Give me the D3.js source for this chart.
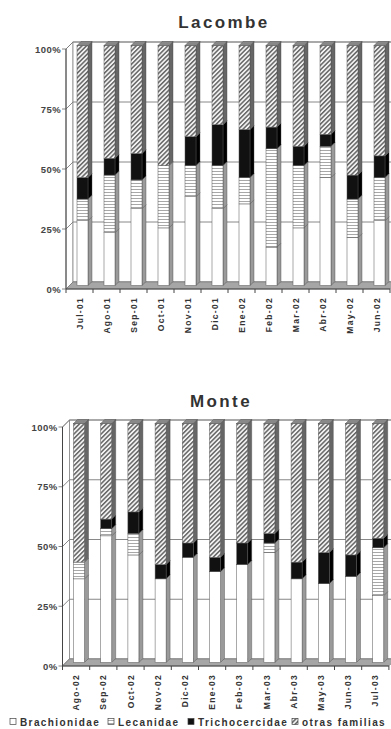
<!DOCTYPE html>
<html>
<head>
<meta charset="utf-8">
<script src="https://cdn.jsdelivr.net/npm/d3@7"></script>
<style>
  body { margin: 0; background: #fff; }
  svg { display: block; font-family: "Liberation Sans", Arial, sans-serif; }
</style>
</head>
<body>
<div id="chart"></div>
<script>
"use strict";
// 100% stacked 3D-looking columns, two panels (Lacombe, Monte)

const lacMonths = ["Jul-01", "Ago-01", "Sep-01", "Oct-01", "Nov-01", "Dic-01", "Ene-02", "Feb-02", "Mar-02", "Abr-02", "May-02", "Jun-02"];
const lacBrach = [27, 22, 32, 24, 37, 32, 34, 16, 24, 45, 20, 27];
const lacLecan = [9, 24, 12, 26, 13, 18, 11, 41, 26, 13, 16, 18];
const lacTrich = [9, 7, 11, 0, 12, 17, 20, 9, 8, 5, 10, 9];
const lacOtras = [55, 47, 45, 50, 38, 33, 35, 34, 42, 37, 54, 46];

const monMonths = ["Ago-02", "Sep-02", "Oct-02", "Nov-02", "Dic-02", "Ene-03", "Feb-03", "Mar-03", "Abr-03", "May-03", "Jun-03", "Jul-03"];
const monBrach = [35, 53, 45, 35, 44, 38, 41, 46, 35, 33, 36, 28];
const monLecan = [7, 3, 9, 0, 0, 0, 0, 4, 0, 0, 0, 20];
const monTrich = [0, 4, 9, 6, 6, 6, 9, 4, 7, 13, 9, 4];
const monOtras = [58, 40, 37, 59, 50, 56, 50, 46, 58, 54, 55, 48];

const seriesKeys = ["Brachionidae", "Lecanidae", "Trichocercidae", "otras familias"];
const yTicks = [0, 25, 50, 75, 100];

const W = 391, H = 729;
const svg = d3.select("#chart").append("svg")
	.attr("width", W)
	.attr("height", H);

// patterns
let defs = svg.append("defs");
let pH = defs.append("pattern")
	.attr("id", "stripeH")
	.attr("patternUnits", "userSpaceOnUse")
	.attr("width", 4).attr("height", 3);
pH.append("rect").attr("width", 4).attr("height", 3).attr("fill", "#fff");
pH.append("rect").attr("y", 0).attr("width", 4).attr("height", 1).attr("fill", "#a8a8a8");

let pD = defs.append("pattern")
	.attr("id", "hatch")
	.attr("patternUnits", "userSpaceOnUse")
	.attr("width", 3.2).attr("height", 3.2)
	.attr("patternTransform", "rotate(45)");
pD.append("rect").attr("width", 3.2).attr("height", 3.2).attr("fill", "#f2f2f2");
pD.append("rect").attr("width", 1.5).attr("height", 3.2).attr("fill", "#666");

const fills = ["#fff", "url(#stripeH)", "#111", "url(#hatch)"];
const sides = ["#9a9a9a", "#9a9a9a", "#000", "#666"];

const depth = { dx: 7, dy: -7 };

function drawPanel(cfg) {
	let g = svg.append("g");
	let n = cfg.months.length;
	let xR = cfg.x0 + cfg.step * n;

	let x = d3.scaleBand()
		.domain(cfg.months)
		.range([cfg.x0, xR]);

	let y = d3.scaleLinear()
		.domain([0, 100])
		.range([cfg.yBot, cfg.yTop]);

	let rows = cfg.months.map(function (m, i) {
		let r = { month: m };
		cfg.values.forEach(function (arr, k) { r[seriesKeys[k]] = arr[i]; });
		return r;
	});
	let stacked = d3.stack().keys(seriesKeys)(rows);

	// title
	g.append("text")
		.attr("x", cfg.titleX)
		.attr("y", cfg.titleY)
		.attr("text-anchor", "middle")
		.style("font-size", "17px")
		.style("font-weight", "bold")
		.style("letter-spacing", "2.4px")
		.style("fill", "#333")
		.text(cfg.title);

	// side wall
	g.append("path")
		.attr("d", d3.line()([[cfg.x0, y(100)], [cfg.x0 + depth.dx, y(100) + depth.dy], [cfg.x0 + depth.dx, y(0) + depth.dy], [cfg.x0, y(0)]]) + "Z")
		.style("fill", "#fff")
		.style("stroke", "#888")
		.style("stroke-width", "0.8px");

	// back wall
	g.append("rect")
		.attr("x", cfg.x0 + depth.dx)
		.attr("y", y(100) + depth.dy)
		.attr("width", xR - cfg.x0)
		.attr("height", y(0) - y(100))
		.style("fill", "#fff")
		.style("stroke", "#888")
		.style("stroke-width", "0.8px");

	// gridlines
	yTicks.forEach(function (v) {
		g.append("path")
			.attr("d", d3.line()([[cfg.x0 - 4, y(v)], [cfg.x0, y(v)], [cfg.x0 + depth.dx, y(v) + depth.dy], [xR + depth.dx, y(v) + depth.dy]]))
			.style("fill", "none")
			.style("stroke", "#7a7a7a")
			.style("stroke-width", "0.9px");
	});

	// floor
	g.append("path")
		.attr("d", d3.line()([[cfg.x0, y(0)], [cfg.x0 + depth.dx, y(0) + depth.dy], [xR + depth.dx, y(0) + depth.dy], [xR, y(0)]]) + "Z")
		.style("fill", "#a6a6a6")
		.style("stroke", "#777")
		.style("stroke-width", "0.6px");

	// bars
	let bw = 11, bd = 4;
	let yB = function (v) { return y(v) + depth.dy / 2; };
	let barX = function (m) { return x(m) + 11; };

	stacked.forEach(function (layer, k) {
		let lg = g.append("g");
		layer.forEach(function (d) {
			if (d[1] - d[0] <= 0) return;
			let bx = barX(d.data.month);
			let t = yB(d[1]), b = yB(d[0]);
			lg.append("path")
				.attr("d", d3.line()([[bx + bw, t], [bx + bw + bd, t - bd], [bx + bw + bd, b - bd], [bx + bw, b]]) + "Z")
				.style("fill", sides[k])
				.style("stroke", "#444")
				.style("stroke-width", "0.4px");
			lg.append("rect")
				.attr("x", bx)
				.attr("y", t)
				.attr("width", bw)
				.attr("height", b - t)
				.style("fill", fills[k])
				.style("stroke", "#555")
				.style("stroke-width", "0.5px");
		});
	});

	// bar tops
	cfg.months.forEach(function (m) {
		let bx = barX(m), t = yB(100);
		g.append("path")
			.attr("d", d3.line()([[bx, t], [bx + bd, t - bd], [bx + bw + bd, t - bd], [bx + bw, t]]) + "Z")
			.style("fill", "#888")
			.style("stroke", "#444")
			.style("stroke-width", "0.4px");
	});

	// y axis
	g.append("line")
		.attr("x1", cfg.x0).attr("x2", cfg.x0)
		.attr("y1", y(100)).attr("y2", y(0))
		.style("stroke", "#444")
		.style("stroke-width", "1px");

	yTicks.forEach(function (v) {
		g.append("text")
			.attr("x", cfg.x0 - 5)
			.attr("y", y(v) + 3.5)
			.attr("text-anchor", "end")
			.style("font-size", "9.5px")
			.style("font-weight", "bold")
			.style("letter-spacing", "0.4px")
			.style("fill", "#444")
			.text(v + "%");
	});

	// x axis line + boundary ticks
	g.append("line")
		.attr("x1", cfg.x0).attr("x2", xR)
		.attr("y1", y(0)).attr("y2", y(0))
		.style("stroke", "#444")
		.style("stroke-width", "1px");

	d3.range(n + 1).forEach(function (i) {
		let tx = cfg.x0 + i * x.step();
		g.append("line")
			.attr("x1", tx).attr("x2", tx)
			.attr("y1", y(0)).attr("y2", y(0) + 4)
			.style("stroke", "#444")
			.style("stroke-width", "1px");
	});

	cfg.months.forEach(function (m) {
		let cx = x(m) + x.bandwidth() / 2 + 3;
		g.append("text")
			.attr("transform", "translate(" + cx + "," + (y(0) + 8) + ") rotate(-90)")
			.attr("text-anchor", "end")
			.style("font-size", "8.5px")
			.style("font-weight", "bold")
			.style("letter-spacing", "1.3px")
			.style("fill", "#333")
			.text(m);
	});
}

drawPanel({
	title: "Lacombe",
	months: lacMonths,
	values: [lacBrach, lacLecan, lacTrich, lacOtras],
	x0: 66, step: 27, yTop: 49, yBot: 289,
	titleX: 224, titleY: 28
});

drawPanel({
	title: "Monte",
	months: monMonths,
	values: [monBrach, monLecan, monTrich, monOtras],
	x0: 62.5, step: 27.2, yTop: 427, yBot: 666,
	titleX: 221, titleY: 407
});

// legend
let legendX = [10, 108, 188, 292];
let lg = svg.append("g");
seriesKeys.forEach(function (key, k) {
	lg.append("rect")
		.attr("x", legendX[k])
		.attr("y", 718.5)
		.attr("width", 6)
		.attr("height", 6)
		.style("fill", fills[k])
		.style("stroke", "#444")
		.style("stroke-width", "0.7px");
	lg.append("text")
		.attr("x", legendX[k] + 10)
		.attr("y", 725.5)
		.style("font-size", "10px")
		.style("font-weight", "bold")
		.style("letter-spacing", "1.4px")
		.style("fill", "#333")
		.text(key);
});
</script>
</body>
</html>
